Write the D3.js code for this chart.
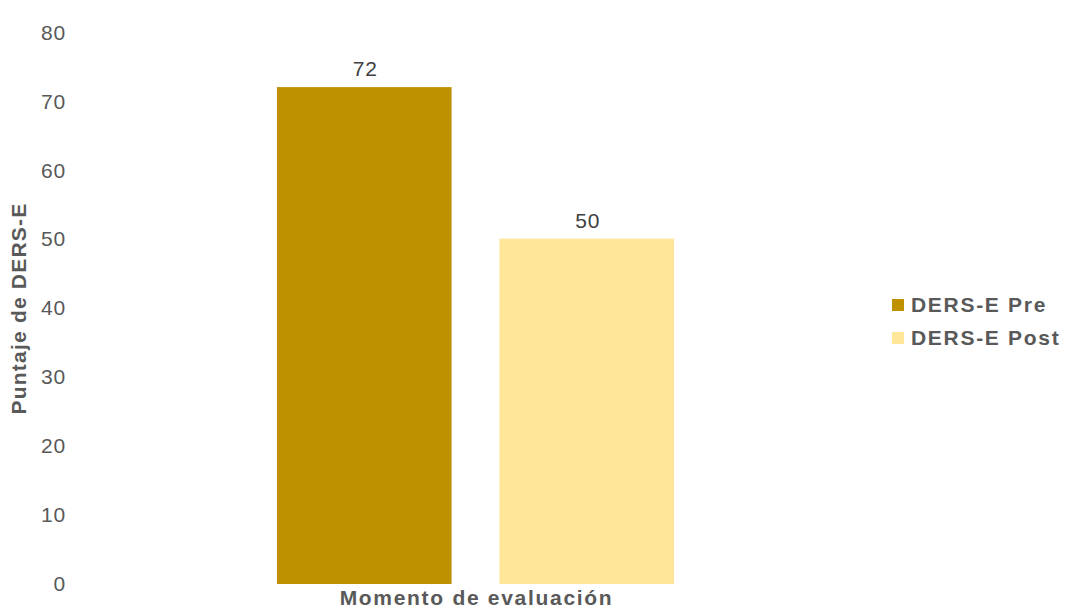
<!DOCTYPE html>
<html>
<head>
<meta charset="utf-8">
<script src="https://cdn.jsdelivr.net/npm/d3@7"></script>
<style>
  html, body { margin: 0; padding: 0; background: #ffffff; }
  svg { display: block; font-family: "Liberation Sans", Arial, sans-serif; }
</style>
</head>
<body>
<svg id="chart" width="1066" height="609"></svg>
<script>
// Scores of the DERS-E scale before and after the intervention
const groups = ["Momento de evaluación"];
const seriesNames = ["DERS-E Pre", "DERS-E Post"];
const seriesValues = [72, 50];
const seriesColors = ["#BF9000", "#FFE699"];
const yTicks = [0, 10, 20, 30, 40, 50, 60, 70, 80];

const svg = d3.select("#chart");
const plot = { left: 80, right: 871, top: 32, bottom: 583 };

const x0 = d3.scaleBand()
  .domain(groups)
  .range([plot.left, plot.right])
  .paddingInner(0)
  .paddingOuter(0.496);

const x1 = d3.scaleBand()
  .domain(seriesNames)
  .range([0, x0.bandwidth()])
  .paddingInner(0.215)
  .paddingOuter(0);

const y = d3.scaleLinear()
  .domain([0, 80])
  .range([plot.bottom, plot.top]);

// Y axis: labels only, no line or tick marks
const yAxis = svg.append("g")
  .attr("transform", `translate(${plot.left - 14},0)`)
  .call(d3.axisLeft(y).tickValues(yTicks).tickSize(0).tickPadding(0));
yAxis.select(".domain").remove();
yAxis.selectAll("text")
  .attr("fill", "#595959")
  .style("font-size", "21px")
  .style("letter-spacing", "0.8px")
  .attr("dy", "0.35em");

// Bars
const rows = seriesNames.map((name, i) => ({ name, value: seriesValues[i], color: seriesColors[i] }));
const g = svg.append("g").attr("transform", `translate(${x0(groups[0])},0)`);

g.selectAll("rect.bar")
  .data(rows)
  .join("rect")
  .attr("class", "bar")
  .attr("x", d => x1(d.name))
  .attr("y", d => y(d.value))
  .attr("width", x1.bandwidth())
  .attr("height", d => y(0) - y(d.value) + 1)
  .attr("fill", d => d.color);

// Value labels above each bar
g.selectAll("text.val")
  .data(rows)
  .join("text")
  .attr("class", "val")
  .attr("x", d => x1(d.name) + x1.bandwidth() / 2 + 1)
  .attr("y", d => y(d.value) - 11)
  .attr("text-anchor", "middle")
  .attr("fill", "#404040")
  .style("font-size", "21px")
  .style("letter-spacing", "0.8px")
  .text(d => d.value);

// Axis titles
svg.append("text")
  .attr("x", x0(groups[0]) + x0.bandwidth() / 2 + 1)
  .attr("y", 605)
  .attr("text-anchor", "middle")
  .attr("fill", "#595959")
  .style("font-size", "21px")
  .style("font-weight", "bold")
  .style("letter-spacing", "1.7px")
  .text(groups[0]);

svg.append("text")
  .attr("transform", `translate(26,${(plot.top + plot.bottom) / 2 + 1}) rotate(-90)`)
  .attr("text-anchor", "middle")
  .attr("fill", "#595959")
  .style("font-size", "21px")
  .style("font-weight", "bold")
  .style("letter-spacing", "1.2px")
  .text("Puntaje de DERS-E");

// Legend
const legend = svg.append("g").attr("transform", "translate(892,305)");
const items = legend.selectAll("g")
  .data(rows)
  .join("g")
  .attr("transform", (d, i) => `translate(0,${i * 33})`);
items.append("rect")
  .attr("x", 0).attr("y", -6)
  .attr("width", 12).attr("height", 12)
  .attr("fill", d => d.color);
items.append("text")
  .attr("x", 19)
  .attr("y", 0)
  .attr("dy", "0.35em")
  .attr("fill", "#595959")
  .style("font-size", "21px")
  .style("font-weight", "bold")
  .style("letter-spacing", "1.7px")
  .text(d => d.name);
</script>
</body>
</html>
